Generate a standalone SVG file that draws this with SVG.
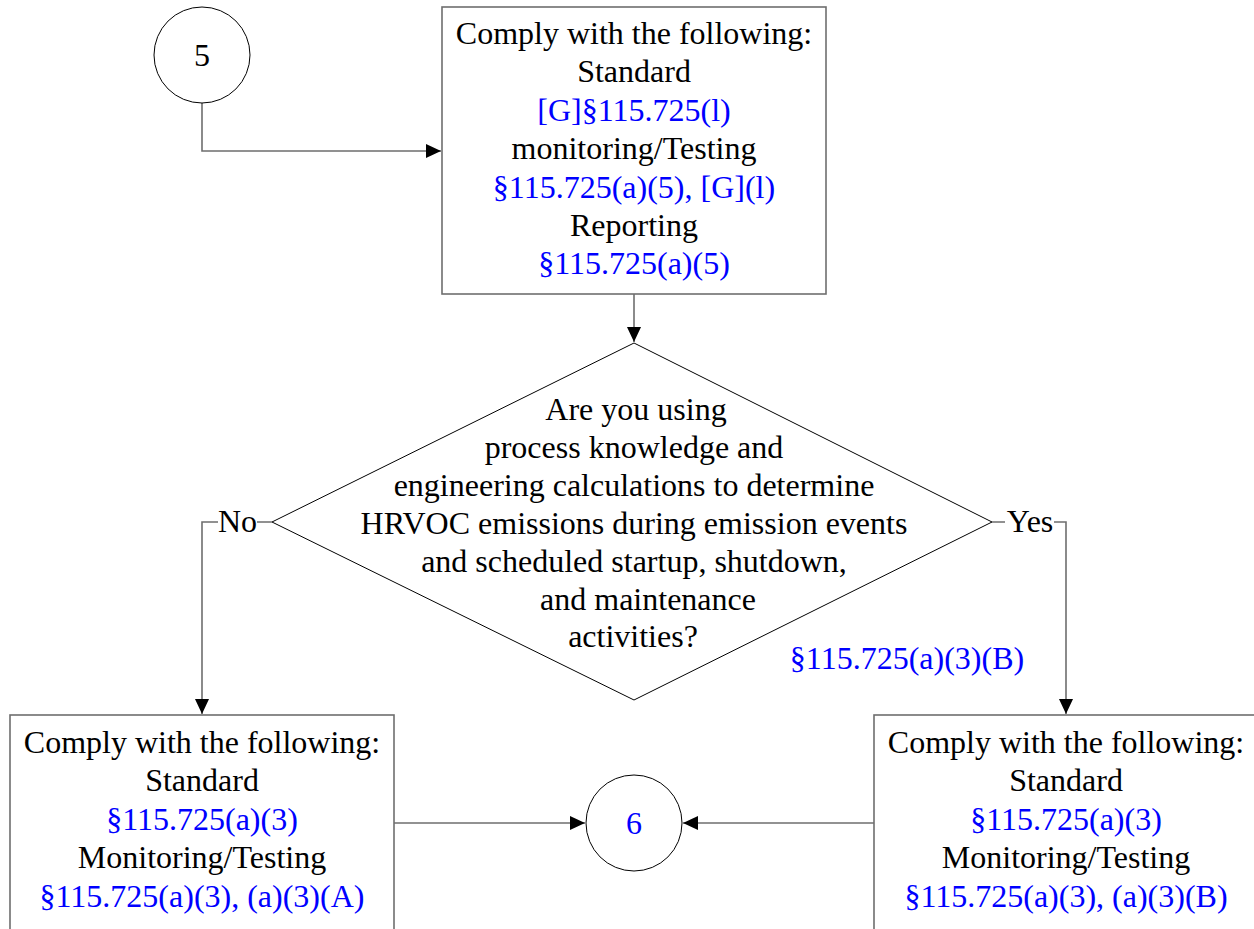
<svg xmlns="http://www.w3.org/2000/svg" width="1254" height="929" viewBox="0 0 1254 929">
<style>
.t{font-family:"Liberation Serif","Times New Roman",serif;font-size:32px;text-anchor:middle;fill:#000}
.b{fill:#0000ff}
.box{fill:#fff;stroke:#6e6e6e;stroke-width:1.6}
.circ{fill:#fff;stroke:#000;stroke-width:1}
.dia{fill:#fff;stroke:#000;stroke-width:1}
.con{fill:none;stroke:#6e6e6e;stroke-width:1.6}
</style>
<defs>
<marker id="ah" markerUnits="userSpaceOnUse" markerWidth="16" markerHeight="14" refX="15" refY="7" orient="auto">
<path d="M0,0 L15,7 L0,14 Z" fill="#000"/>
</marker>
</defs>
<rect width="1254" height="929" fill="#fff"/>
<g id="connectors">
<path class="con" d="M202,103 V151 H441" marker-end="url(#ah)"/>
<path class="con" d="M634,294 V342" marker-end="url(#ah)"/>
<path class="con" d="M272,522 H202 V714" marker-end="url(#ah)"/>
<path class="con" d="M992,522 H1066 V714" marker-end="url(#ah)"/>
<path class="con" d="M394,823 H585" marker-end="url(#ah)"/>
<path class="con" d="M874,823 H683" marker-end="url(#ah)"/>
<rect x="218" y="506" width="39" height="30" fill="#fff"/>
<text class="t" x="237.5" y="532">No</text>
<rect x="1005" y="506" width="49" height="30" fill="#fff"/>
<text class="t" x="1030" y="532">Yes</text>
</g>
<g id="n5">
<circle class="circ" cx="202" cy="55" r="48"/>
<text class="t" x="202" y="66">5</text>
</g>
<g id="top">
<rect class="box" x="442" y="7" width="384" height="287"/>
<text class="t" x="634" y="44">Comply with the following:</text>
<text class="t" x="634" y="82.4">Standard</text>
<text class="t b" x="634" y="120.8">[G]§115.725(l)</text>
<text class="t" x="634" y="159.2">monitoring/Testing</text>
<text class="t b" x="634" y="197.6">§115.725(a)(5), [G](l)</text>
<text class="t" x="634" y="236">Reporting</text>
<text class="t b" x="634" y="274.4">§115.725(a)(5)</text>
</g>
<g id="decision">
<polygon class="dia" points="634,343 992,522 634,700 272,522"/>
<text class="t" x="636" y="420">Are you using</text>
<text class="t" x="634" y="458">process knowledge and</text>
<text class="t" x="634" y="496">engineering calculations to determine</text>
<text class="t" x="634" y="534">HRVOC emissions during emission events</text>
<text class="t" x="634" y="572">and scheduled startup, shutdown,</text>
<text class="t" x="648" y="610">and maintenance</text>
<text class="t" x="633" y="647">activities?</text>
<text class="t b" x="907" y="669">§115.725(a)(3)(B)</text>
</g>
<g id="left">
<rect class="box" x="10" y="715" width="384" height="230"/>
<text class="t" x="202" y="753">Comply with the following:</text>
<text class="t" x="202" y="791.4">Standard</text>
<text class="t b" x="202" y="829.8">§115.725(a)(3)</text>
<text class="t" x="202" y="868.2">Monitoring/Testing</text>
<text class="t b" x="202" y="906.6">§115.725(a)(3), (a)(3)(A)</text>
</g>
<g id="n6">
<circle class="circ" cx="634" cy="823" r="48"/>
<text class="t b" x="634" y="834">6</text>
</g>
<g id="right">
<rect class="box" x="874" y="715" width="390" height="230"/>
<text class="t" x="1066" y="753">Comply with the following:</text>
<text class="t" x="1066" y="791.4">Standard</text>
<text class="t b" x="1066" y="829.8">§115.725(a)(3)</text>
<text class="t" x="1066" y="868.2">Monitoring/Testing</text>
<text class="t b" x="1066" y="906.6">§115.725(a)(3), (a)(3)(B)</text>
</g>
</svg>
